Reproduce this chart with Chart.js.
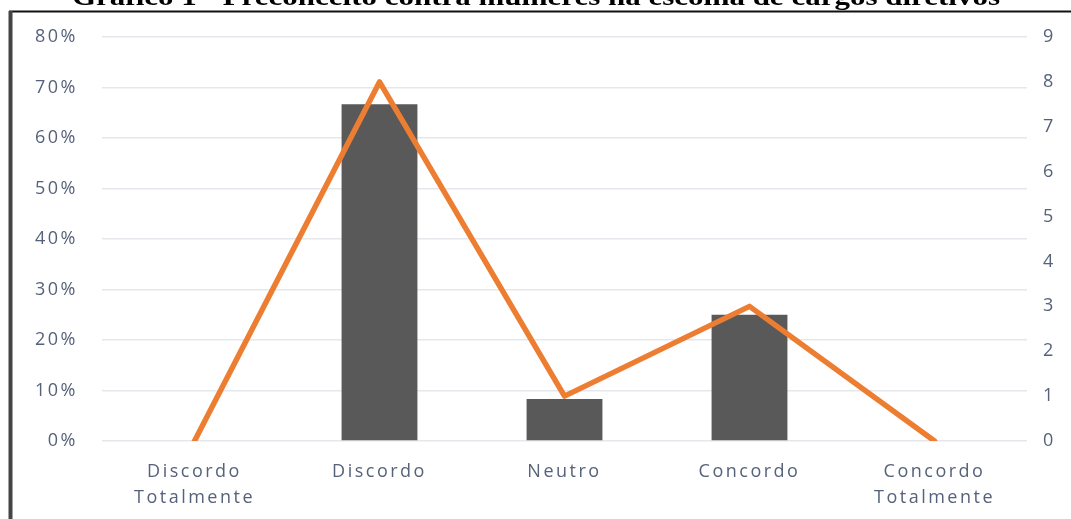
<!DOCTYPE html>
<html>
<head>
<meta charset="utf-8">
<script src="https://cdn.jsdelivr.net/npm/chart.js@4/dist/chart.umd.min.js"></script>
<style>
  html, body { margin: 0; padding: 0; background: #fff; }
  #wrap { position: relative; width: 1071px; height: 519px; overflow: hidden; }
</style>
</head>
<body>
<div id="wrap"><canvas id="grafico" width="1071" height="519"></canvas></div>
<script>
const categorias = [['Discordo', 'Totalmente'], 'Discordo', 'Neutro', 'Concordo', ['Concordo', 'Totalmente']]
const percentuais = [0, 66.7, 8.3, 25.0, 0]
const respostas = [0, 8, 1, 3, 0]
const titulo = 'Gráfico 1 - Preconceito contra mulheres na escolha de cargos diretivos'

const corTexto = '#56627a'
const fonteEixo = { family: '"Open Sans", sans-serif', size: 18, lineHeight: 1.45 }

// moldura e título cortado no topo
const moldura = {
    id: 'moldura',
    beforeDraw(chart) {
        chart.ctx.letterSpacing = '2.5px'
    },
    afterDraw(chart) {
        const ctx = chart.ctx
        ctx.save()
        ctx.letterSpacing = '0px'
        ctx.font = 'bold 26px "Liberation Serif", serif'
        ctx.fillStyle = '#000'
        ctx.textBaseline = 'alphabetic'
        const w = ctx.measureText(titulo).width
        ctx.translate(72, 5)
        ctx.scale(928 / w, 1)
        ctx.fillText(titulo, 0, 0)
        ctx.restore()

        ctx.save()
        ctx.strokeStyle = '#111'
        ctx.lineWidth = 2
        ctx.beginPath()
        ctx.moveTo(9, 11.5)
        ctx.lineTo(1071, 11.5)
        ctx.stroke()
        ctx.strokeStyle = '#444'
        ctx.lineWidth = 4
        ctx.beginPath()
        ctx.moveTo(10.5, 11)
        ctx.lineTo(10.5, 519)
        ctx.stroke()
        ctx.restore()
    }
}

const ctx = document.getElementById('grafico').getContext('2d')
const grafico = new Chart(ctx, {
    data: {
        labels: categorias,
        datasets: [
            {
                type: 'line',
                data: respostas,
                yAxisID: 'y1',
                borderColor: '#ed7d31',
                borderWidth: 5.5,
                tension: 0,
                pointRadius: 0,
                borderJoinStyle: 'round',
                borderCapStyle: 'round',
                order: 0
            },
            {
                type: 'bar',
                data: percentuais,
                yAxisID: 'y',
                backgroundColor: '#595959',
                categoryPercentage: 1,
                barPercentage: 0.41,
                order: 1
            }
        ]
    },
    options: {
        responsive: false,
        animation: false,
        layout: { padding: { top: 37, left: 0, right: 0, bottom: 0 } },
        plugins: {
            legend: { display: false },
            tooltip: { enabled: false }
        },
        scales: {
            x: {
                grid: { display: false },
                border: { display: false },
                ticks: { color: corTexto, font: fonteEixo, padding: 10, maxRotation: 0 },
                afterFit(scale) { scale.height = 78 }
            },
            y: {
                position: 'left',
                min: 0,
                max: 80,
                border: { display: false },
                grid: { color: '#e4e7ec', lineWidth: 1.5, drawTicks: false },
                ticks: {
                    stepSize: 10,
                    color: corTexto,
                    font: fonteEixo,
                    padding: 24,
                    callback: v => v + '%'
                },
                afterFit(scale) { scale.width = 102 }
            },
            y1: {
                position: 'right',
                min: 0,
                max: 9,
                border: { display: false },
                grid: { display: false, drawTicks: false },
                ticks: { stepSize: 1, color: corTexto, font: fonteEixo, padding: 16 },
                afterFit(scale) { scale.width = 44 }
            }
        }
    },
    plugins: [moldura]
});
</script>
</body>
</html>
